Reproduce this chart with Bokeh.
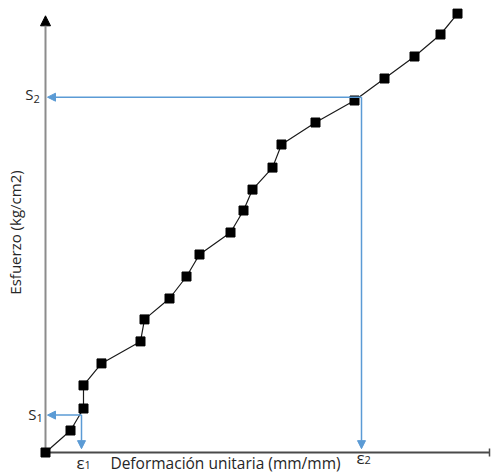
from math import pi
from bokeh.plotting import figure
from bokeh.models import Range1d, Arrow, NormalHead, TeeHead, Label, ColumnDataSource
from bokeh.embed import file_html
from bokeh.resources import INLINE

# ---- data ----
strain = [0.0, 0.0025, 0.0038, 0.0038, 0.0056, 0.0095, 0.0099, 0.0124, 0.0141, 0.0154,
          0.0185, 0.0198, 0.0207, 0.0227, 0.0236, 0.0270, 0.0309, 0.0339, 0.0369, 0.0395, 0.0412]
stress = [0.0, 2.0, 4.0, 6.1, 8.1, 10.1, 12.1, 14.0, 16.0, 18.0,
          20.0, 22.0, 23.9, 25.9, 28.0, 30.0, 32.0, 34.0, 36.0, 38.0, 39.9]

e1, s1 = 0.0036, 3.4      # point 1 (ε1, S1)
e2, s2 = 0.0316, 32.3     # point 2 (ε2, S2)
x_axis_end = 0.0444
y_axis_end = 39.7

x_title = "Deformación unitaria (mm/mm)"
y_title = "Esfuerzo (kg/cm2)"

FONT = "Open Sans"
TXT = "#262626"
BLUE = "#5B9BD5"

p = figure(width=491, height=474, output_backend="svg", toolbar_location=None,
           x_range=Range1d(-0.0045, 0.0446), y_range=Range1d(-2.0, 41.091),
           min_border=0, outline_line_color=None)
p.axis.visible = False
p.grid.visible = False

# axes drawn as arrows
p.add_layout(Arrow(x_start=0, y_start=0, x_end=0, y_end=y_axis_end,
                   line_color="#8c8c8c", line_width=2, level="underlay",
                   end=NormalHead(size=10, fill_color="black", line_color="black")))
p.add_layout(Arrow(x_start=0, y_start=0, x_end=x_axis_end, y_end=0,
                   line_color="#4a4a4a", line_width=2, level="underlay",
                   end=TeeHead(size=8, line_color="#4a4a4a", line_width=1.5)))

src = ColumnDataSource(dict(x=strain, y=stress))
p.line("x", "y", source=src, line_color="#1a1a1a", line_width=1.2)
p.scatter("x", "y", source=src, marker="square", size=9,
          fill_color="black", line_color="black")

# guide arrows
head = lambda: NormalHead(size=8, fill_color=BLUE, line_color=BLUE)
for (xs, ys, xe, ye) in [(e2, s2, 0.0002, s2), (e2, s2, e2, 0.35),
                         (e1, s1, 0.0002, s1), (e1, s1, e1, 0.35)]:
    p.add_layout(Arrow(x_start=xs, y_start=ys, x_end=xe, y_end=ye,
                       line_color=BLUE, line_width=1.5, end=head()))

def lab(x, y, text, size, xo, yo, align):
    p.add_layout(Label(x=x, y=y, text=text, x_offset=xo, y_offset=yo,
                       text_font=FONT, text_font_size=f"{size}px", text_color=TXT,
                       text_align=align, text_baseline="middle"))

# S labels
lab(0, s2, "S", 15, -12, 3, "right")
lab(0, s2, "2", 11, -12, -2, "left")
lab(0, s1, "S", 15, -9, 1, "right")
lab(0, s1, "1", 11, -9, -3, "left")
# epsilon labels
lab(e1, 0, "ε", 17, 3, -10, "right")
lab(e1, 0, "1", 11, 3, -12, "left")
lab(e2, 0, "ε", 17, 3, -5, "right")
lab(e2, 0, "2", 11, 3, -7, "left")

# axis titles
p.add_layout(Label(x=0.0180, y=0, text=x_title, y_offset=-10, text_font=FONT,
                   text_font_size="15.5px", text_color=TXT, text_align="center",
                   text_baseline="middle"))
p.add_layout(Label(x=0, y=20.0, text=y_title, x_offset=-31, angle=pi / 2,
                   text_font=FONT, text_font_size="15px", text_color=TXT,
                   text_align="center", text_baseline="middle"))

open("out.html", "w").write(file_html(p, INLINE))
